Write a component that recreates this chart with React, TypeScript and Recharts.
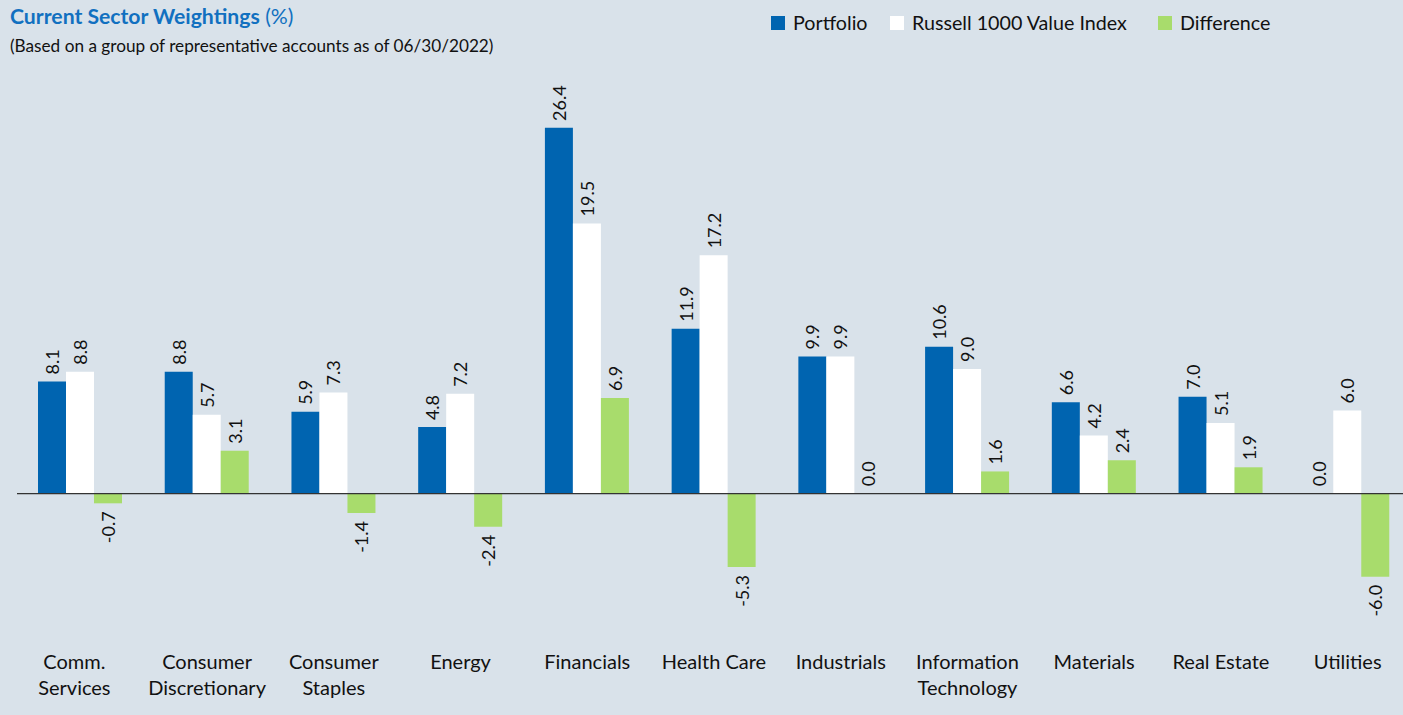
import React from "react";
import { BarChart, Bar, XAxis, YAxis, ReferenceLine, LabelList } from "recharts";

const categories = [
  "Comm.|Services",
  "Consumer|Discretionary",
  "Consumer|Staples",
  "Energy",
  "Financials",
  "Health Care",
  "Industrials",
  "Information|Technology",
  "Materials",
  "Real Estate",
  "Utilities",
];
const portfolio = [8.1, 8.8, 5.9, 4.8, 26.4, 11.9, 9.9, 10.6, 6.6, 7.0, 0.0];
const russell = [8.8, 5.7, 7.3, 7.2, 19.5, 17.2, 9.9, 9.0, 4.2, 5.1, 6.0];
const difference = [-0.7, 3.1, -1.4, -2.4, 6.9, -5.3, 0.0, 1.6, 2.4, 1.9, -6.0];

const data = categories.map((c, i) => ({
  name: c,
  portfolio: portfolio[i],
  russell: russell[i],
  difference: difference[i],
}));

const BG = "#d9e2ea";
const BLUE = "#0064b0";
const GREEN = "#a8dc6c";
const FONT = "Lato, 'Open Sans', sans-serif";

const ValueLabel = (props: any) => {
  const { x, y, width, height, value } = props;
  const top = Math.min(y, y + height);
  const bottom = Math.max(y, y + height);
  const cx = x + width / 2;
  const v = Number(value);
  const pos = v >= 0;
  const ay = pos ? top - 7 : bottom + 8;
  return (
    <text
      x={cx}
      y={ay}
      transform={`rotate(-90 ${cx} ${ay})`}
      textAnchor={pos ? "start" : "end"}
      dominantBaseline="central"
      fontSize={18}
      fontFamily={FONT}
      fill="#111"
    >
      {v.toFixed(1)}
    </text>
  );
};

const CatTick = (props: any) => {
  const { x, y, payload, index } = props;
  const lines = String(payload.value).split("|");
  const tx = index === 0 ? x - 6 : x;
  return (
    <text x={tx} y={y} textAnchor="middle" fontSize={20} fontFamily={FONT} fill="#111">
      {lines.map((l, i) => (
        <tspan key={i} x={tx} dy={i === 0 ? 15 : 26}>
          {l}
        </tspan>
      ))}
    </text>
  );
};

const legendItems = [
  { label: "Portfolio", color: BLUE, left: 771 },
  { label: "Russell 1000 Value Index", color: "#ffffff", left: 890 },
  { label: "Difference", color: GREEN, left: 1158 },
];

const zeroMin = (v: any) => (Number(v) === 0 ? 0.3 : 0);

export default function App() {
  return (
    <div
      style={{
        position: "fixed",
        left: 0,
        top: 0,
        width: 1403,
        height: 715,
        background: BG,
        fontFamily: FONT,
        overflow: "hidden",
      }}
    >
      <div style={{ position: "absolute", left: 10, top: 3, fontSize: 21.2, color: "#1170c0", whiteSpace: "nowrap" }}>
        <span style={{ fontWeight: 700 }}>Current Sector Weightings</span> (%)
      </div>
      <div style={{ position: "absolute", left: 10, top: 35, fontSize: 17.2, color: "#111", whiteSpace: "nowrap" }}>
        (Based on a group of representative accounts as of 06/30/2022)
      </div>
      {legendItems.map((it) => (
        <div
          key={it.label}
          style={{
            position: "absolute",
            left: it.left,
            top: 11,
            display: "flex",
            alignItems: "center",
            fontSize: 19.7,
            color: "#111",
            whiteSpace: "nowrap",
          }}
        >
          <span style={{ display: "inline-block", width: 14, height: 14, background: it.color, marginRight: 8 }} />
          {it.label}
        </div>
      ))}
      <div style={{ position: "absolute", left: 0, top: 0 }}>
        <BarChart
          width={1403}
          height={715}
          data={data}
          margin={{ top: 78, right: -8, bottom: 0, left: 17 }}
          barCategoryGap={21}
          barGap={0}
        >
          <XAxis
            dataKey="name"
            axisLine={false}
            tickLine={false}
            height={69}
            interval={0}
            tick={<CatTick />}
          />
          <YAxis hide domain={[-11, 30]} allowDataOverflow />
          <ReferenceLine y={0} stroke="#333" strokeWidth={1.2} />
          <Bar dataKey="portfolio" fill={BLUE} isAnimationActive={false} minPointSize={zeroMin}>
            <LabelList dataKey="portfolio" content={<ValueLabel />} />
          </Bar>
          <Bar dataKey="russell" fill="#ffffff" isAnimationActive={false} minPointSize={zeroMin}>
            <LabelList dataKey="russell" content={<ValueLabel />} />
          </Bar>
          <Bar dataKey="difference" fill={GREEN} isAnimationActive={false} minPointSize={zeroMin}>
            <LabelList dataKey="difference" content={<ValueLabel />} />
          </Bar>
        </BarChart>
      </div>
    </div>
  );
}
